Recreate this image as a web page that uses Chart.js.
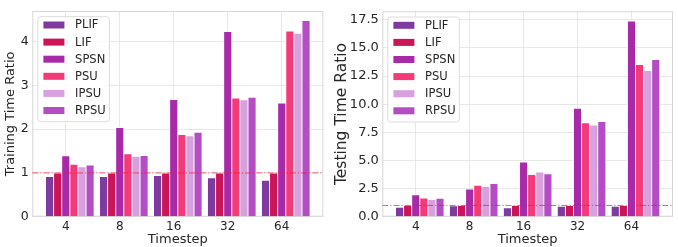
<!DOCTYPE html>
<html>
<head>
<meta charset="utf-8">
<script src="https://cdn.jsdelivr.net/npm/chart.js@4/dist/chart.umd.min.js"></script>
<style>
    html, body { margin: 0; padding: 0; background: #fff; }
    .wrap { position: absolute; top: 0; height: 247px; }
    #leftWrap { left: 0; width: 330px; }
    #rightWrap { left: 330px; width: 348px; }
</style>
</head>
<body>
<div class="wrap" id="leftWrap"><canvas id="trainChart"></canvas></div>
<div class="wrap" id="rightWrap"><canvas id="testChart"></canvas></div>
<script>
// Data
const timesteps = ['4', '8', '16', '32', '64'];
const methods = ['PLIF', 'LIF', 'SPSN', 'PSU', 'IPSU', 'RPSU'];
const methodColors = ['#7f3aa0', '#cc1559', '#a82aa8', '#f23b78', '#d8a0de', '#b44cc4'];

const trainPLIF = [0.92, 0.92, 0.94, 0.89, 0.83];
const trainLIF  = [1.00, 1.00, 1.00, 1.00, 1.00];
const trainSPSN = [1.39, 2.04, 2.68, 4.23, 2.60];
const trainPSU  = [1.20, 1.44, 1.88, 2.71, 4.24];
const trainIPSU = [1.14, 1.38, 1.85, 2.67, 4.19];
const trainRPSU = [1.18, 1.40, 1.93, 2.73, 4.48];

const testPLIF = [0.83, 0.97, 0.80, 0.92, 0.92];
const testLIF  = [1.00, 1.00, 1.00, 1.00, 1.00];
const testSPSN = [1.95, 2.46, 4.86, 9.64, 17.39];
const testPSU  = [1.66, 2.80, 3.75, 8.36, 13.53];
const testIPSU = [1.52, 2.69, 3.98, 8.15, 12.99];
const testRPSU = [1.63, 2.95, 3.81, 8.47, 13.98];

const baseline = 1;

const FONT = 'DejaVu Sans';
const TEXT = '#262626';
const BAR_W = 0.15;

// Dashed-dot baseline and plot frame
const baselinePlugin = {
    id: 'baseline',
    beforeDatasetsDraw(chart) {
        const { ctx, chartArea: a } = chart;
        ctx.save();
        ctx.strokeStyle = '#d6d6d6';
        ctx.lineWidth = 1;
        ctx.strokeRect(a.left + 0.5, a.top + 0.5, a.right - a.left - 1, a.bottom - a.top - 1);
        ctx.restore();
    },
    afterDatasetsDraw(chart) {
        const { ctx, chartArea: a, scales } = chart;
        const y = scales.y.getPixelForValue(baseline);
        ctx.save();
        ctx.strokeStyle = 'rgba(255, 20, 40, 0.7)';
        ctx.lineWidth = 1;
        ctx.setLineDash([6, 2, 1.2, 2]);
        ctx.beginPath();
        ctx.moveTo(a.left, y);
        ctx.lineTo(a.right, y);
        ctx.stroke();
        ctx.restore();
    }
};

// Legend drawn inside the plot, top-left
const innerLegend = {
    id: 'innerLegend',
    afterDraw(chart) {
        const { ctx, chartArea: a } = chart;
        const x0 = a.left + 5.5, y0 = a.top + 5.7;
        const w = 71.6, h = 105;
        ctx.save();
        ctx.beginPath();
        ctx.roundRect(x0, y0, w, h, 3);
        ctx.fillStyle = 'rgba(255,255,255,0.85)';
        ctx.fill();
        ctx.strokeStyle = '#dcdcdc';
        ctx.lineWidth = 1;
        ctx.stroke();
        ctx.font = `11.5px "${FONT}"`;
        ctx.textBaseline = 'middle';
        chart.data.datasets.forEach((ds, i) => {
            const cy = y0 + 8.3 + i * 17.1;
            ctx.fillStyle = ds.backgroundColor;
            ctx.fillRect(x0 + 5.6, cy - 3.5, 21, 7);
            ctx.fillStyle = TEXT;
            ctx.fillText(ds.label, x0 + 37.3, cy + 0.5);
        });
        ctx.restore();
    }
};

function makeDatasets(series) {
    return series.map((values, j) => ({
        label: methods[j],
        data: values.map((v, i) => ({ x: i + (j - 2) * BAR_W, y: v })),
        backgroundColor: methodColors[j],
        borderColor: '#ffffff',
        borderWidth: 0.8,
        grouped: false,
        categoryPercentage: 1,
        barPercentage: 1
    }));
}

function makeChart(canvasId, series, opts) {
    const ctx = document.getElementById(canvasId).getContext('2d');
    return new Chart(ctx, {
        type: 'bar',
        data: { datasets: makeDatasets(series) },
        options: {
            responsive: true,
            maintainAspectRatio: false,
            animation: false,
            layout: { padding: { top: 3.3, right: opts.padRight, left: 0, bottom: 0 } },
            plugins: { legend: { display: false }, tooltip: { enabled: false } },
            scales: {
                x: {
                    type: 'linear',
                    offset: false,
                    min: -0.62,
                    max: 4.77,
                    afterBuildTicks: s => { s.ticks = timesteps.map((t, i) => ({ value: i })); },
                    afterFit: s => { s.height = 30.3; },
                    ticks: {
                        callback: v => timesteps[v],
                        font: { family: FONT, size: 12 },
                        color: TEXT,
                        padding: 3,
                        maxRotation: 0
                    },
                    grid: { color: '#e8e8e8', drawTicks: false, offset: false },
                    border: { display: false },
                    title: {
                        display: true,
                        text: 'Timestep',
                        font: { family: FONT, size: 13 },
                        color: TEXT,
                        padding: { top: 0, bottom: 0 }
                    }
                },
                y: {
                    min: 0,
                    max: opts.yMax,
                    afterBuildTicks: s => { s.ticks = opts.yTicks.map(v => ({ value: v })); },
                    afterFit: s => { s.width = opts.yWidth; },
                    ticks: {
                        callback: opts.yFormat,
                        font: { family: FONT, size: opts.yTickSize },
                        color: TEXT,
                        padding: 3.5
                    },
                    grid: { color: '#e8e8e8', drawTicks: false },
                    border: { display: false },
                    title: {
                        display: true,
                        text: opts.yTitle,
                        font: { family: FONT, size: opts.yTitleSize },
                        color: TEXT,
                        padding: { top: opts.yTitlePad, bottom: 0 }
                    }
                }
            }
        },
        plugins: [baselinePlugin, innerLegend]
    });
}

const trainTicks = [0, 1, 2, 3, 4];
const testTicks = [0, 2.5, 5, 7.5, 10, 12.5, 15, 17.5];

makeChart('trainChart', [trainPLIF, trainLIF, trainSPSN, trainPSU, trainIPSU, trainRPSU], {
    yMax: 4.70,
    yTicks: trainTicks,
    yFormat: v => String(v),
    yTitle: 'Training Time Ratio',
    yTickSize: 12.5,
    yTitleSize: 13,
    yTitlePad: 3,
    yWidth: 32.3,
    padRight: 6.7
});

makeChart('testChart', [testPLIF, testLIF, testSPSN, testPSU, testIPSU, testRPSU], {
    yMax: 18.26,
    yTicks: testTicks,
    yFormat: v => v.toFixed(1),
    yTitle: 'Testing Time Ratio',
    yTickSize: 13,
    yTitleSize: 15.5,
    yTitlePad: 2.5,
    yWidth: 52.3,
    padRight: 5
});
</script>
</body>
</html>
